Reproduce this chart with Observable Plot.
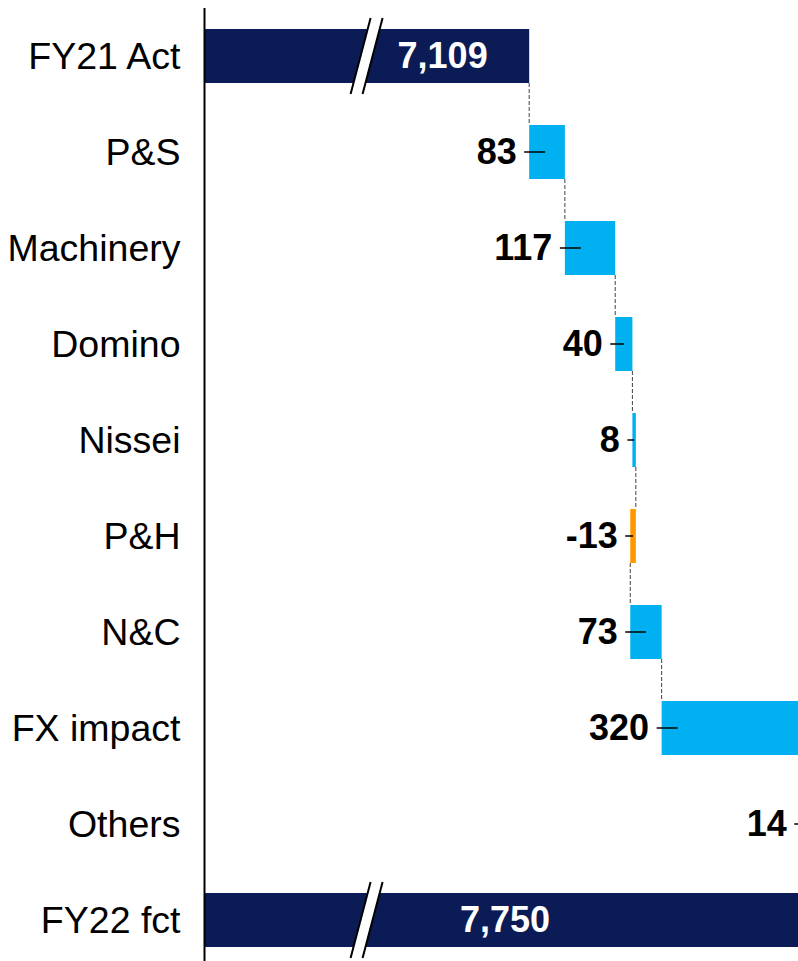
<!DOCTYPE html>
<html><head><meta charset="utf-8">
<script src="https://cdn.jsdelivr.net/npm/d3@7"></script>
<script src="https://cdn.jsdelivr.net/npm/@observablehq/plot@0.6"></script>
<style>html,body{margin:0;padding:0;background:#fff;overflow:hidden}</style>
</head><body><div id="chart"></div>
<script>
const categories = ["FY21 Act","P&S","Machinery","Domino","Nissei","P&H","N&C","FX impact","Others","FY22 fct"];
const values = [7109, 83, 117, 40, 8, -13, 73, 320, 14, 7750];
const kinds = ["total","step","step","step","step","step","step","step","step","total"];
const xDomain = [6353, 7734];
const colors = {total: "#0B1B55", up: "#00B0F0", down: "#FF9900"};

const fmt = d3.format(",");
let cum = 0;
const rows = categories.map((name, i) => {
  const v = values[i], kind = kinds[i];
  let start, end;
  if (kind === "total") { start = xDomain[0]; end = v; cum = v; }
  else { start = cum; end = cum + v; cum = end; }
  return {name, value: v, kind, start, end,
    left: Math.min(start, end), right: Math.max(start, end),
    color: kind === "total" ? colors.total : (v >= 0 ? colors.up : colors.down),
    label: kind === "total" ? fmt(v) : String(v)};
});
const steps = rows.filter(d => d.kind === "step");
const totals = rows.filter(d => d.kind === "total");

const bw = s => typeof s.bandwidth === "function" ? s.bandwidth() : s.bandwidth;

function connectors(index, scales) {
  const x = scales.x, y = scales.y, b = bw(y);
  const g = d3.create("svg:g").attr("stroke", "#404040").attr("stroke-width", 1).attr("stroke-dasharray", "4,2");
  for (let i = 0; i < rows.length - 1; i++) {
    const px = x(rows[i].end);
    g.append("line").attr("x1", px).attr("x2", px)
      .attr("y1", y(rows[i].name) + b).attr("y2", y(rows[i + 1].name));
  }
  return g.node();
}

function breaks(index, scales) {
  const x = scales.x, y = scales.y, b = bw(y);
  const c = (x(xDomain[0]) + x(totals[0].end)) / 2;
  const g = d3.create("svg:g");
  for (const t of totals) {
    const y0 = y(t.name), yc = y0 + b / 2, h = b / 2 + 11;
    const s = 10 * h / 38;
    const lb = [c - 6 - s, yc + h], lt = [c - 6 + s, yc - h];
    const rb = [c + 6 - s, yc + h], rt = [c + 6 + s, yc - h];
    g.append("polygon").attr("points", [lb, lt, rt, rb].map(p => p.join(",")).join(" ")).attr("fill", "white");
    g.append("line").attr("x1", lb[0]).attr("y1", lb[1]).attr("x2", lt[0]).attr("y2", lt[1]).attr("stroke", "black").attr("stroke-width", 2);
    g.append("line").attr("x1", rb[0]).attr("y1", rb[1]).attr("x2", rt[0]).attr("y2", rt[1]).attr("stroke", "black").attr("stroke-width", 2);
  }
  return g.node();
}

function leaders(index, scales) {
  const x = scales.x, y = scales.y, b = bw(y);
  const g = d3.create("svg:g").attr("stroke", "black").attr("stroke-width", 1.5);
  for (const d of steps) {
    const l = x(d.left), r = x(d.right), yc = y(d.name) + b / 2;
    g.append("line").attr("x1", l - 5).attr("x2", Math.min(l + 16, (l + r) / 2)).attr("y1", yc).attr("y2", yc);
  }
  return g.node();
}

const font = "Liberation Sans, Arial, Helvetica, sans-serif";
const chart = Plot.plot({
  width: 798,
  height: 961,
  marginLeft: 204,
  marginRight: 0,
  marginTop: 8,
  marginBottom: 0,
  style: {fontSize: "37.5px", fontFamily: font, color: "black", background: "white"},
  x: {domain: xDomain, axis: null},
  y: {domain: categories, range: [28.1, 946.8], paddingInner: 0.44, paddingOuter: 0, tickSize: 0, tickPadding: 24, label: null},
  marks: [
    Plot.barX(rows, {y: "name", x1: "left", x2: "right", fill: "color"}),
    connectors,
    breaks,
    leaders,
    Plot.text(steps, {y: "name", x: "left", text: "label", textAnchor: "end", dx: -13, fontSize: 36, fontWeight: "bold", fill: "black"}),
    Plot.text([totals[0]], {y: "name", x: "end", text: "label", textAnchor: "end", dx: -42, fontSize: 36, fontWeight: "bold", fill: "white"}),
    Plot.text([totals[1]], {y: "name", x: d => (xDomain[0] + d.end) / 2, text: "label", textAnchor: "middle", fontSize: 36, fontWeight: "bold", fill: "white"}),
    Plot.ruleX([xDomain[0]], {stroke: "black", strokeWidth: 2})
  ]
});
document.getElementById("chart").appendChild(chart);
</script>
</body></html>
